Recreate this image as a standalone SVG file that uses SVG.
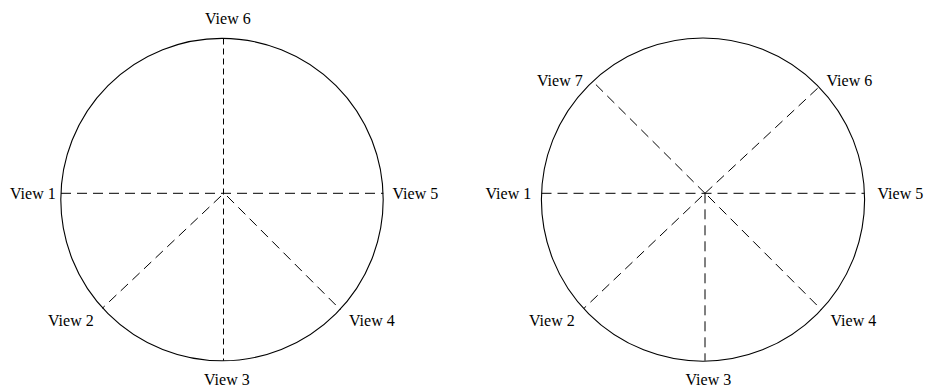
<svg xmlns="http://www.w3.org/2000/svg" width="925" height="390" viewBox="0 0 925 390">
<style>
.c{fill:none;stroke:#000;stroke-width:1.1}
.d{fill:none;stroke:#000;stroke-width:1;stroke-dasharray:10 6}
.v{fill:none;stroke:#000;stroke-width:1;stroke-dasharray:6 4}
text{font-family:"Liberation Serif","Times New Roman",serif;font-size:16px;fill:#000}
</style>
<rect width="925" height="390" fill="#fff"/>
<g id="left-circle"><circle class="c" cx="222" cy="199.6" r="161.2"/></g>
<g id="right-circle"><circle class="c" cx="703" cy="199.6" r="161.6"/></g>
<g id="connectors">
<line class="d" x1="61" y1="193.3" x2="383.3" y2="193.3"/>
<line class="v" x1="223.5" y1="38.5" x2="223.5" y2="360.7"/>
<line class="d" x1="221" y1="196" x2="102.3" y2="308.3"/>
<line class="d" x1="227" y1="196" x2="340.7" y2="310"/>
<line class="d" x1="541.5" y1="193.3" x2="864.5" y2="193.3"/>
<line class="d" x1="705" y1="193.3" x2="705" y2="360.7"/>
<line class="d" x1="705" y1="193.3" x2="593.3" y2="82"/>
<line class="d" x1="705" y1="193.3" x2="819.3" y2="86.7"/>
<line class="d" x1="702" y1="196" x2="584" y2="308.3"/>
<line class="d" x1="708" y1="196" x2="821.7" y2="310"/>
</g>
<g id="labels-left">
<text x="205" y="24">View 6</text>
<text x="10" y="199">View 1</text>
<text x="392.5" y="199">View 5</text>
<text x="48" y="326">View 2</text>
<text x="349" y="326">View 4</text>
<text x="204" y="385">View 3</text>
</g>
<g id="labels-right">
<text x="537" y="86">View 7</text>
<text x="826.5" y="86">View 6</text>
<text x="485.5" y="199">View 1</text>
<text x="877.5" y="199">View 5</text>
<text x="529" y="326">View 2</text>
<text x="830.5" y="326">View 4</text>
<text x="685.5" y="385">View 3</text>
</g>
</svg>
